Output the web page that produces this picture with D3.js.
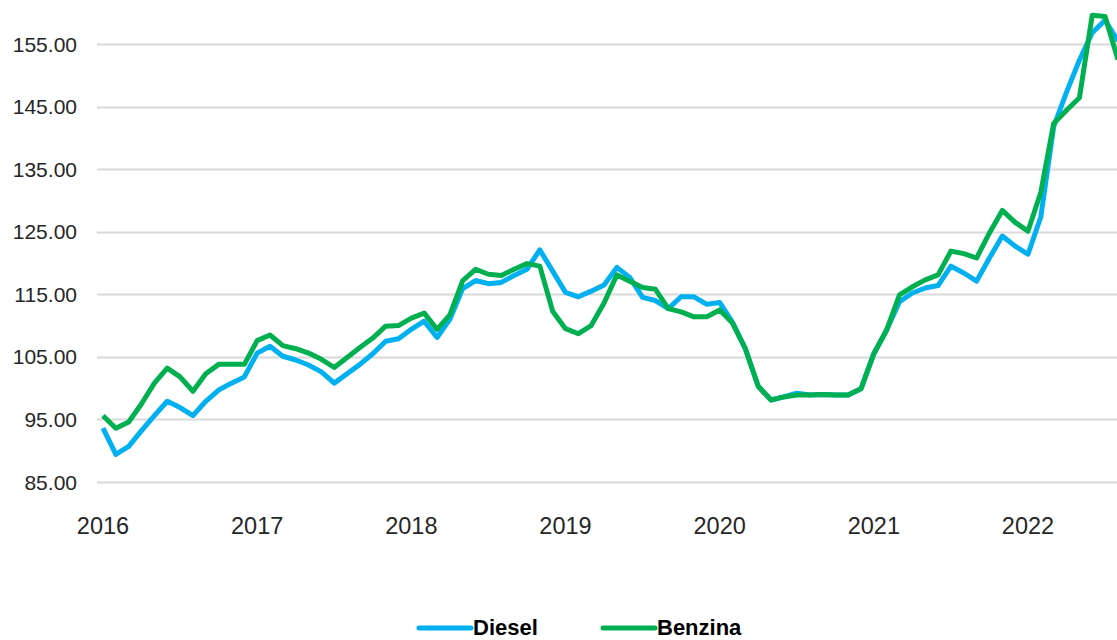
<!DOCTYPE html>
<html>
<head>
<meta charset="utf-8">
<script src="https://cdn.jsdelivr.net/npm/d3@7"></script>
<title>Diesel e Benzina</title>
<style>
body { margin: 0; background: #fff; }
svg { display: block; font-family: Arial, "Liberation Sans", sans-serif; }
</style>
</head>
<body>
<script>

// monthly values, Jan 2016 onwards
var diesel = [
  93.6, 89.4, 90.7, 93.2, 95.6, 97.9, 96.9, 95.6, 97.9, 99.7, 100.8, 101.8,
  105.6, 106.7, 105.1, 104.5, 103.7, 102.6, 100.8, 102.3, 103.8, 105.5, 107.5, 107.9,
  109.4, 110.7, 108.1, 111.0, 115.9, 117.2, 116.7, 116.9, 118.0, 119.0, 122.1, 118.7,
  115.3, 114.6, 115.5, 116.5, 119.3, 117.7, 114.5, 114.0, 112.7, 114.6, 114.6, 113.4,
  113.7, 110.5, 106.3, 100.3, 98.1, 98.6, 99.2, 98.9, 99.0, 98.9, 98.9, 99.9,
  105.5, 109.3, 113.8, 115.2, 116.0, 116.4, 119.5, 118.4, 117.1, 120.8, 124.3, 122.7,
  121.4, 127.4, 141.8, 147.3, 152.4, 156.8, 158.8, 155.5
];
var benzina = [
  95.6, 93.6, 94.6, 97.5, 100.8, 103.2, 101.8, 99.5, 102.3, 103.8, 103.8, 103.8,
  107.6, 108.5, 106.8, 106.3, 105.6, 104.6, 103.3, 104.9, 106.5, 108.0, 109.9, 110.0,
  111.2, 112.0, 109.4, 111.7, 117.2, 119.0, 118.2, 118.0, 119.0, 119.9, 119.5, 112.3,
  109.5, 108.7, 110.0, 113.6, 118.1, 117.1, 116.1, 115.8, 112.7, 112.2, 111.4, 111.4,
  112.5, 110.4, 106.3, 100.3, 98.1, 98.6, 98.9, 98.9, 99.0, 98.9, 98.9, 99.9,
  105.5, 109.3, 114.9, 116.2, 117.3, 118.1, 121.9, 121.5, 120.8, 124.8, 128.4, 126.5,
  125.1, 131.3, 142.3, 144.4, 146.4, 159.6, 159.4, 152.5
];
var years = ["2016", "2017", "2018", "2019", "2020", "2021", "2022"];
var yTicks = [85, 95, 105, 115, 125, 135, 145, 155];
var seriesNames = ["Diesel", "Benzina"];
var seriesColors = ["#00b0f0", "#00b050"];

var width = 1117,
    height = 640;

var svg = d3.select("body")
  .append("svg")
  .attr("width", width)
  .attr("height", height);

var x = d3.scaleLinear()
    .domain([0, 72])
    .range([103, 1028]);

var y = d3.scaleLinear()
    .domain([85, 155])
    .range([482, 44]);

// gridlines
svg.append("g")
  .selectAll("line")
  .data(yTicks)
  .enter()
  .append("line")
  .attr("x1", 97)
  .attr("x2", width)
  .attr("y1", function(d) { return Math.round(y(d)) + 0.5; })
  .attr("y2", function(d) { return Math.round(y(d)) + 0.5; })
  .attr("stroke", "#d9d9d9")
  .attr("stroke-width", 2);

// y labels
svg.append("g")
  .selectAll("text")
  .data(yTicks)
  .enter()
  .append("text")
  .attr("x", 77)
  .attr("y", function(d) { return y(d) + 7.5; })
  .attr("text-anchor", "end")
  .attr("font-size", 21)
  .attr("fill", "#262626")
  .text(function(d) { return d3.format(".2f")(d); });

// x labels
svg.append("g")
  .selectAll("text")
  .data(years)
  .enter()
  .append("text")
  .attr("x", function(d, i) { return x(i * 12); })
  .attr("y", 534)
  .attr("text-anchor", "middle")
  .attr("font-size", 23.5)
  .attr("fill", "#262626")
  .text(function(d) { return d; });

var line = d3.line()
  .x(function(d, i) { return x(i); })
  .y(function(d) { return y(d); });

[diesel, benzina].forEach(function(s, k) {
  svg.append("path")
    .datum(s)
    .attr("fill", "none")
    .attr("stroke", seriesColors[k])
    .attr("stroke-width", 5)
    .attr("stroke-linejoin", "round")
    .attr("d", line);
});

// legend
var legX = [419, 603];
var leg = svg.append("g")
  .selectAll("g")
  .data(seriesNames)
  .enter()
  .append("g")
  .attr("transform", function(d, i) { return "translate(" + legX[i] + ",628)"; });

leg.append("line")
  .attr("x1", 0)
  .attr("x2", 52)
  .attr("stroke", function(d, i) { return seriesColors[i]; })
  .attr("stroke-width", 5)
  .attr("stroke-linecap", "round");

leg.append("text")
  .attr("x", 54)
  .attr("y", 7)
  .attr("font-size", 22)
  .attr("font-weight", "bold")
  .attr("fill", "#000")
  .text(function(d) { return d; });

</script>
</body>
</html>
